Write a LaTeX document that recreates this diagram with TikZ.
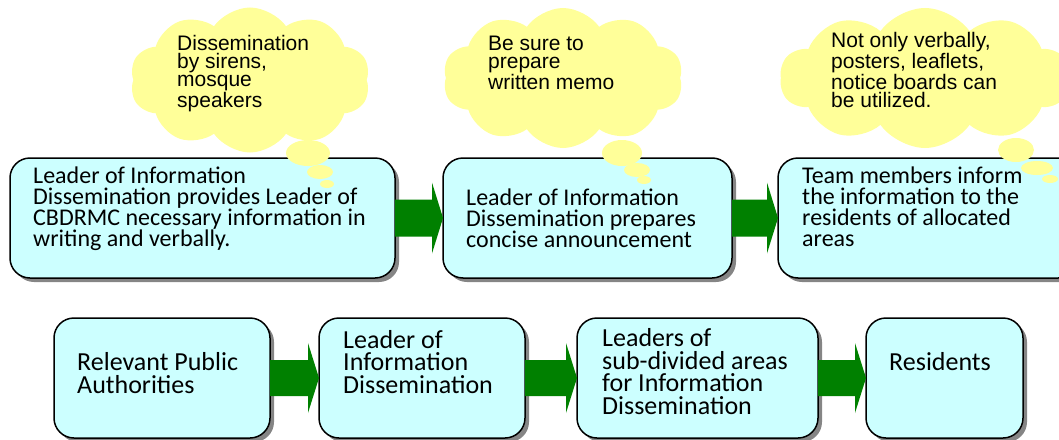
\documentclass[tikz,border=0pt]{standalone}
\usepackage{fontspec}
\setmainfont{Carlito}
\newfontfamily\cloudfont{Liberation Sans}
\usetikzlibrary{shapes.symbols,shadows,calc}
\definecolor{boxfill}{HTML}{CCFFFF}
\definecolor{cloudfill}{HTML}{FFFF99}
\definecolor{arrowgreen}{HTML}{008000}
\definecolor{shadowgray}{HTML}{858585}
\newcommand\flowarrow[5]{%
  \fill[arrowgreen] let \p1=(#1.east), \p2=(#2.west) in
    (\x1,\y1-#3) -- (\x2-#5,\y1-#3) -- (\x2-#5,\y1-#4) -- (\x2,\y1)
    -- (\x2-#5,\y1+#4) -- (\x2-#5,\y1+#3) -- (\x1,\y1+#3) -- cycle;}
\begin{document}
\begin{tikzpicture}[x=1pt,y=-1pt,
  box/.style={draw=black, line width=1.5pt, rounded corners=20pt, fill=boxfill,
    outer sep=0pt, inner sep=0pt, anchor=north west,
    drop shadow={shadow xshift=4pt, shadow yshift=-4pt, fill=shadowgray, opacity=1}},
  toptext/.style={anchor=base west, align=left, inner sep=0pt, font=\fontsize{24}{21}\selectfont},
  bottext/.style={anchor=base west, align=left, inner sep=0pt, font=\fontsize{26}{22.5}\selectfont},
  cloudtext/.style={anchor=base west, align=left, inner sep=0pt, font=\cloudfont\fontsize{21}{18}\selectfont},
  thought/.style={cloud, cloud puffs=10, cloud puff arc=110, cloud ignores aspect, fill=cloudfill, draw=none, inner sep=0pt},
  puff/.style={fill=cloudfill},
]
\clip (0,0) rectangle (1059,439);
% top row boxes
\node[box, minimum width=385pt, minimum height=120pt] (b1) at (10,158) {};
\node[box, minimum width=289pt, minimum height=120pt] (b2) at (443,158) {};
\node[box, minimum width=300pt, minimum height=120pt] (b3) at (778,158) {};
% bottom row boxes
\node[box, minimum width=216pt, minimum height=120pt] (a1) at (54,318) {};
\node[box, minimum width=206pt, minimum height=120pt] (a2) at (319,318) {};
\node[box, minimum width=241pt, minimum height=120pt] (a3) at (577,318) {};
\node[box, minimum width=157pt, minimum height=120pt] (a4) at (866,318) {};
% arrows
\flowarrow{b1}{b2}{18.5pt}{35.5pt}{11pt}
\flowarrow{b2}{b3}{18.5pt}{35.5pt}{11pt}
\flowarrow{a1}{a2}{18pt}{35pt}{11pt}
\flowarrow{a2}{a3}{18pt}{35pt}{11pt}
\flowarrow{a3}{a4}{18pt}{35pt}{11pt}
% clouds
\node[thought, minimum width=240pt, minimum height=145pt] (c1) at (250,80) {};
\fill[puff] (308,153) ellipse [x radius=22pt, y radius=13pt];
\fill[puff] (320,172) ellipse [x radius=13pt, y radius=7pt];
\fill[puff] (327,184) ellipse [x radius=7pt, y radius=4pt];
\node[thought, minimum width=240pt, minimum height=140pt] (c2) at (563,78) {};
\fill[puff] (622,153) ellipse [x radius=20pt, y radius=13pt];
\fill[puff] (637,170) ellipse [x radius=13pt, y radius=7pt];
\fill[puff] (644,180) ellipse [x radius=7pt, y radius=4pt];
\node[thought, minimum width=290pt, minimum height=140pt] (c3) at (925,78) {};
\fill[puff] (1016,150) ellipse [x radius=18pt, y radius=12pt];
\fill[puff] (1037,168) ellipse [x radius=16pt, y radius=7pt];
\fill[puff] (1050,179) ellipse [x radius=8pt, y radius=4pt];
% cloud texts (anchored at the baseline of the last line)
\node[cloudtext] (c1t) at (177,107) {Dissemination\\by sirens,\\mosque\\speakers};
\node[cloudtext] (c2t) at (488,89) {Be sure to\\prepare\\written memo};
\node[cloudtext] (c3t) at (831,107) {Not only verbally,\\posters, leaflets,\\notice boards can\\be utilized.};
% box texts (anchored at the baseline of the last line)
\node[toptext] (b1t) at (33,246) {Leader of Information\\Dissemination provides Leader of\\CBDRMC necessary information in\\writing and verbally.};
\node[toptext] (b2t) at (466,247) {Leader of Information\\Dissemination prepares\\concise announcement};
\node[toptext] (b3t) at (802,246) {Team members inform\\the information to the\\residents of allocated\\areas};
\node[bottext] (a1t) at (77,393) {Relevant Public\\Authorities};
\node[bottext] (a2t) at (343,393) {Leader of\\Information\\Dissemination};
\node[bottext] (a3t) at (602,414) {Leaders of\\sub-divided areas\\for Information\\Dissemination};
\node[bottext] (a4t) at (889,370) {Residents};
\end{tikzpicture}
\end{document}
